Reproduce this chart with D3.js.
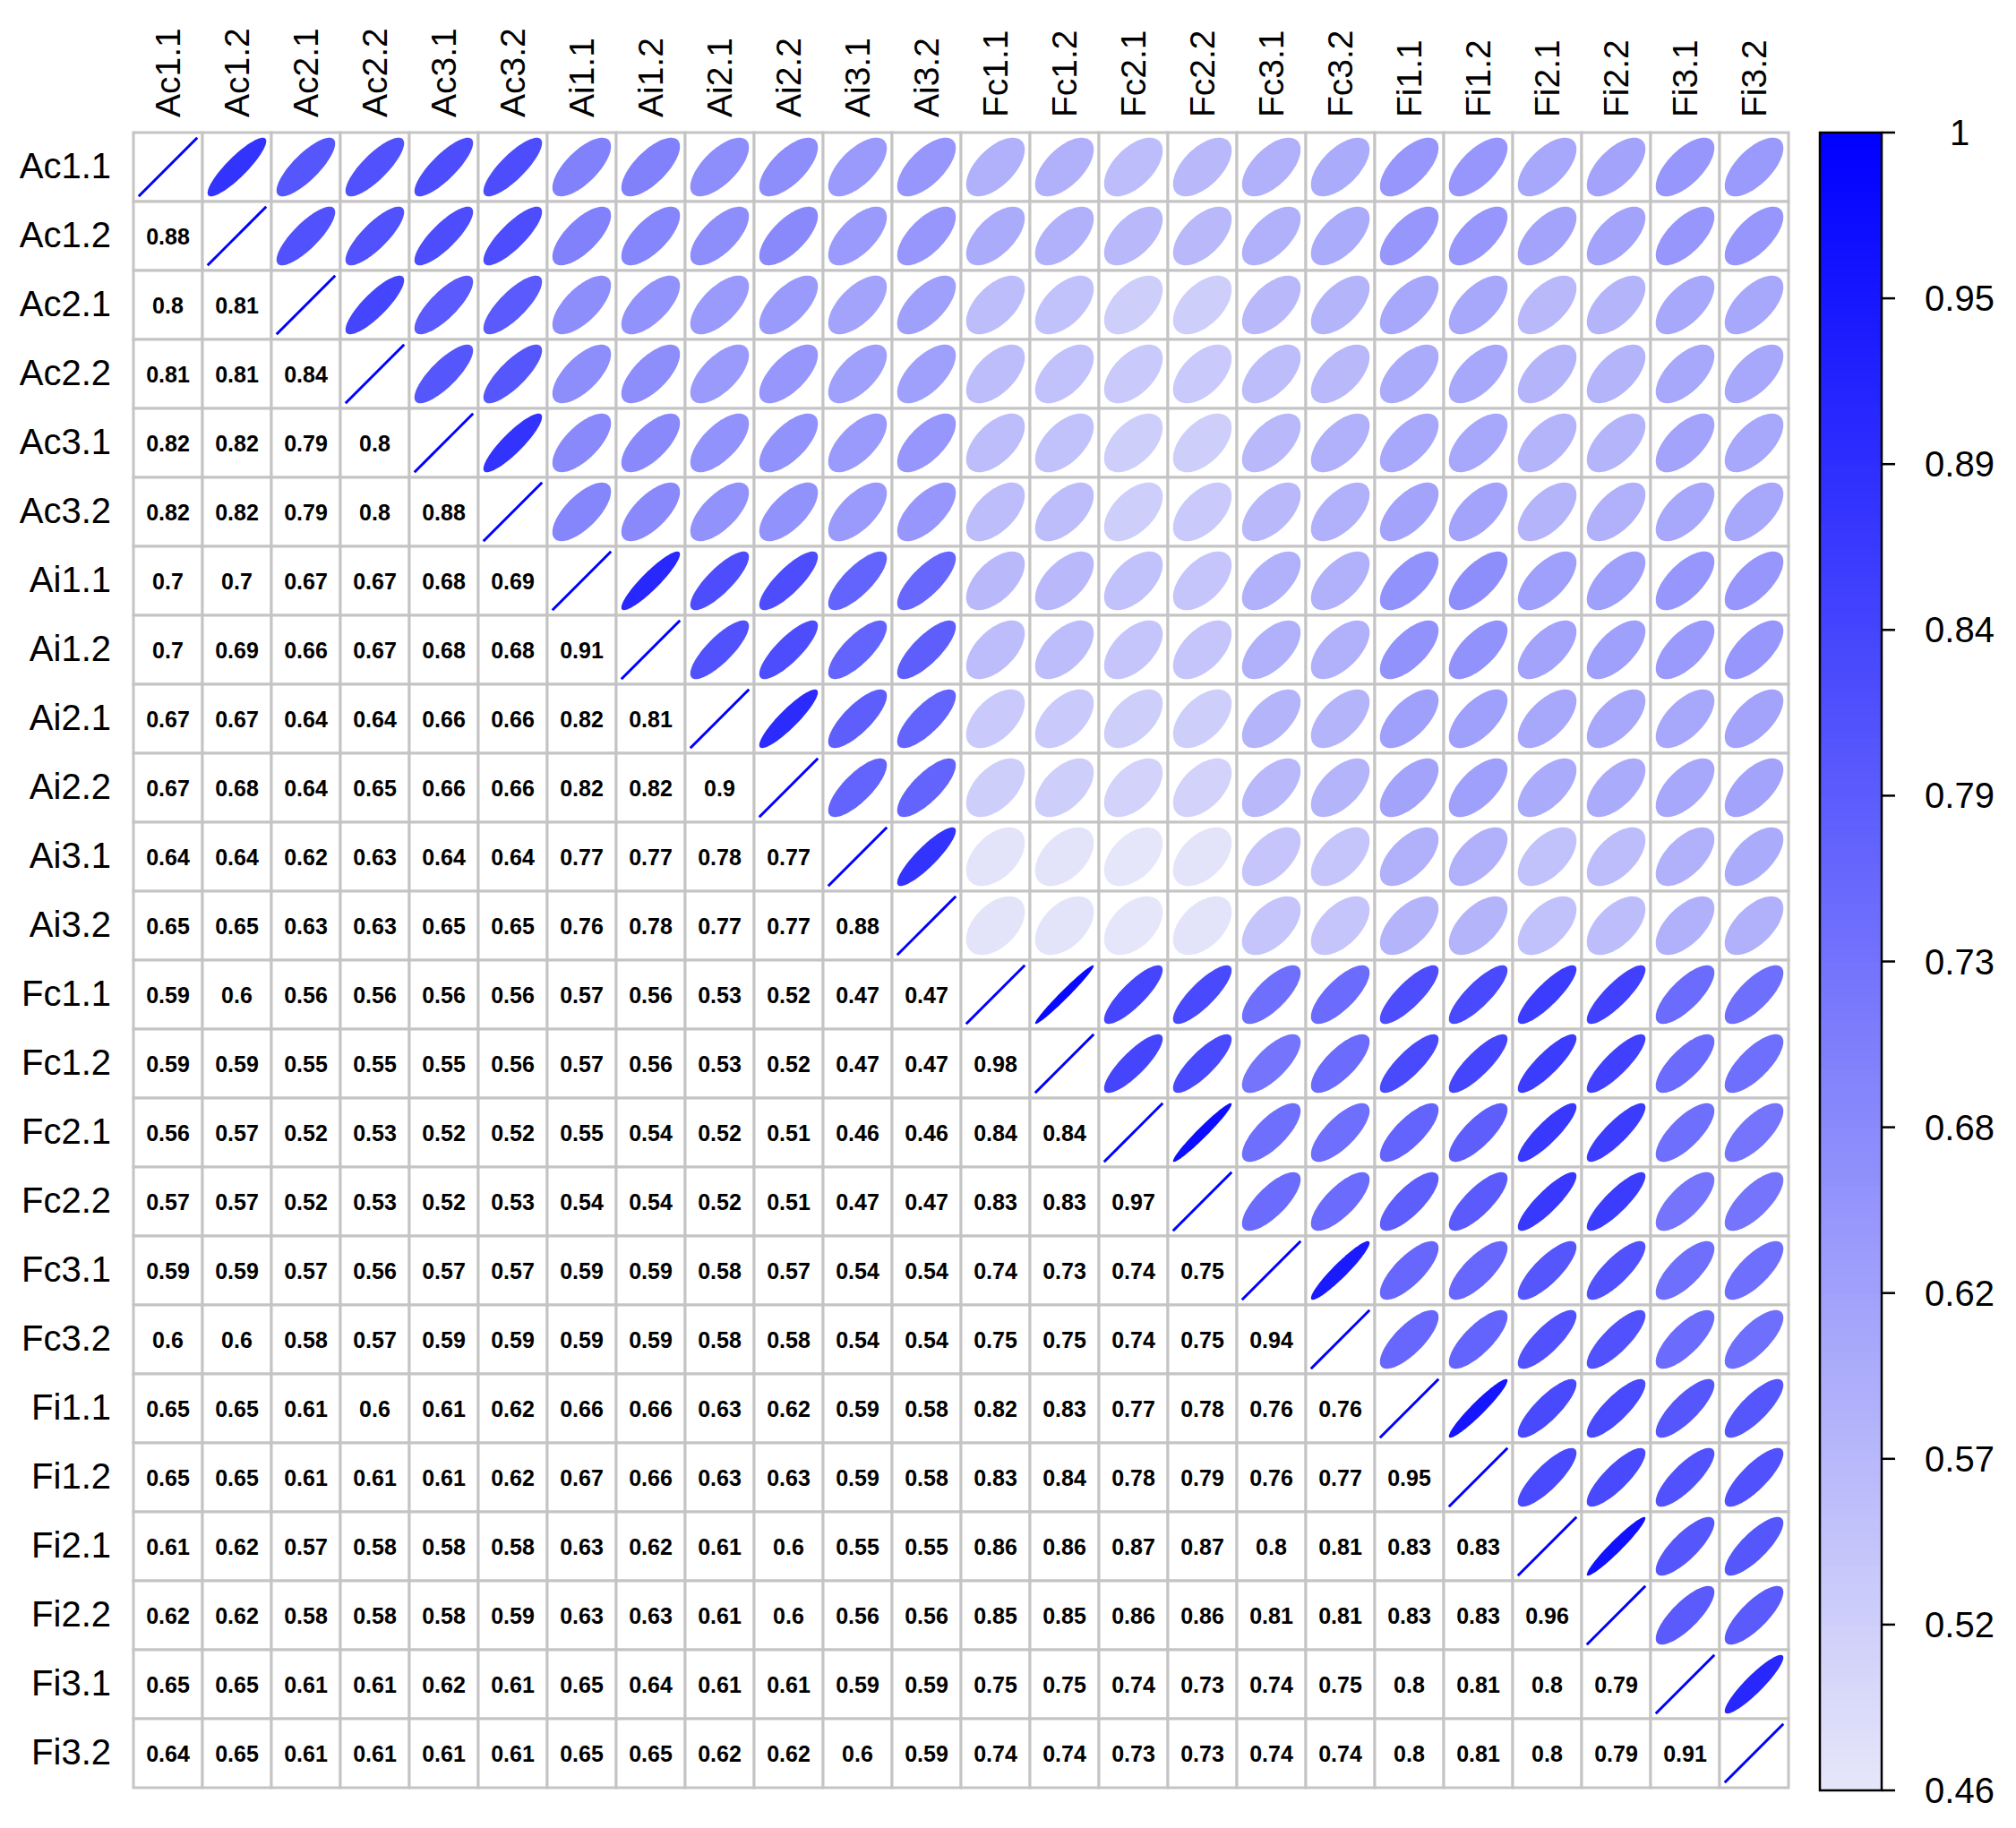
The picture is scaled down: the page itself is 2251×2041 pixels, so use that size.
<!DOCTYPE html>
<html>
<head>
<meta charset="utf-8">
<script src="https://cdn.jsdelivr.net/npm/d3@7"></script>
<style>
  html, body { margin: 0; padding: 0; background: #fff; }
  svg { display: block; }
</style>
</head>
<body>
<svg id="chart" width="2251" height="2041"></svg>
<script>
// ---------------- DATA ----------------
const variables = ["Ac1.1","Ac1.2","Ac2.1","Ac2.2","Ac3.1","Ac3.2",
  "Ai1.1","Ai1.2","Ai2.1","Ai2.2","Ai3.1","Ai3.2",
  "Fc1.1","Fc1.2","Fc2.1","Fc2.2","Fc3.1","Fc3.2",
  "Fi1.1","Fi1.2","Fi2.1","Fi2.2","Fi3.1","Fi3.2"];

// lower-triangle correlations, row i holds r(i, 0..i-1)
const lowerRows = [
  [],
  [0.88],
  [0.8,0.81],
  [0.81,0.81,0.84],
  [0.82,0.82,0.79,0.8],
  [0.82,0.82,0.79,0.8,0.88],
  [0.7,0.7,0.67,0.67,0.68,0.69],
  [0.7,0.69,0.66,0.67,0.68,0.68,0.91],
  [0.67,0.67,0.64,0.64,0.66,0.66,0.82,0.81],
  [0.67,0.68,0.64,0.65,0.66,0.66,0.82,0.82,0.9],
  [0.64,0.64,0.62,0.63,0.64,0.64,0.77,0.77,0.78,0.77],
  [0.65,0.65,0.63,0.63,0.65,0.65,0.76,0.78,0.77,0.77,0.88],
  [0.59,0.6,0.56,0.56,0.56,0.56,0.57,0.56,0.53,0.52,0.47,0.47],
  [0.59,0.59,0.55,0.55,0.55,0.56,0.57,0.56,0.53,0.52,0.47,0.47,0.98],
  [0.56,0.57,0.52,0.53,0.52,0.52,0.55,0.54,0.52,0.51,0.46,0.46,0.84,0.84],
  [0.57,0.57,0.52,0.53,0.52,0.53,0.54,0.54,0.52,0.51,0.47,0.47,0.83,0.83,0.97],
  [0.59,0.59,0.57,0.56,0.57,0.57,0.59,0.59,0.58,0.57,0.54,0.54,0.74,0.73,0.74,0.75],
  [0.6,0.6,0.58,0.57,0.59,0.59,0.59,0.59,0.58,0.58,0.54,0.54,0.75,0.75,0.74,0.75,0.94],
  [0.65,0.65,0.61,0.6,0.61,0.62,0.66,0.66,0.63,0.62,0.59,0.58,0.82,0.83,0.77,0.78,0.76,0.76],
  [0.65,0.65,0.61,0.61,0.61,0.62,0.67,0.66,0.63,0.63,0.59,0.58,0.83,0.84,0.78,0.79,0.76,0.77,0.95],
  [0.61,0.62,0.57,0.58,0.58,0.58,0.63,0.62,0.61,0.6,0.55,0.55,0.86,0.86,0.87,0.87,0.8,0.81,0.83,0.83],
  [0.62,0.62,0.58,0.58,0.58,0.59,0.63,0.63,0.61,0.6,0.56,0.56,0.85,0.85,0.86,0.86,0.81,0.81,0.83,0.83,0.96],
  [0.65,0.65,0.61,0.61,0.62,0.61,0.65,0.64,0.61,0.61,0.59,0.59,0.75,0.75,0.74,0.73,0.74,0.75,0.8,0.81,0.8,0.79],
  [0.64,0.65,0.61,0.61,0.61,0.61,0.65,0.65,0.62,0.62,0.6,0.59,0.74,0.74,0.73,0.73,0.74,0.74,0.8,0.81,0.8,0.79,0.91]
];

const colorbarLabels = ["0.46","0.52","0.57","0.62","0.68","0.73","0.79","0.84","0.89","0.95","1"];
const colorLimits = [0.4634, 1];
const colorStops = ["#E6E6FA", "#0000FF"];

// ---------------- LAYOUT ----------------
const svg = d3.select("#chart");
const n = variables.length;
const gridLeft = 149, gridTop = 148, cell = 77;
const font = "'Liberation Sans', Arial, Helvetica, sans-serif";

const x = d3.scaleBand().domain(variables).range([gridLeft, gridLeft + n * cell]).padding(0);
const y = d3.scaleBand().domain(variables).range([gridTop, gridTop + n * cell]).padding(0);
const color = d3.scaleLinear().domain(colorLimits).range(colorStops).interpolate(d3.interpolateRgb).clamp(true);

// full matrix cells
const cells = [];
variables.forEach((rv, i) => {
  variables.forEach((cv, j) => {
    let r;
    if (i === j) r = 1;
    else if (j < i) r = lowerRows[i][j];
    else r = lowerRows[j][i];
    cells.push({row: rv, col: cv, i, j, r});
  });
});

// cell backgrounds + grid
svg.append("g").selectAll("rect").data(cells).join("rect")
  .attr("x", d => x(d.col)).attr("y", d => y(d.row))
  .attr("width", x.bandwidth()).attr("height", y.bandwidth())
  .attr("fill", "#fff").attr("stroke", "#c4c4c4").attr("stroke-width", 3);

// ellipses (upper triangle)
function ellipsePath(r, s) {
  const d = Math.acos(r);
  const pts = d3.range(0, 101).map(k => {
    const t = k / 100 * 2 * Math.PI;
    return [0.85 * s * Math.cos(t + d / 2) / 2, -0.85 * s * Math.cos(t - d / 2) / 2];
  });
  return d3.line()(pts) + "Z";
}
const upper = cells.filter(d => d.j > d.i);
svg.append("g").selectAll("path").data(upper).join("path")
  .attr("transform", d => `translate(${x(d.col) + cell / 2},${y(d.row) + cell / 2})`)
  .attr("d", d => ellipsePath(d.r, cell))
  .attr("fill", d => color(d.r));

// diagonal lines
const diag = cells.filter(d => d.i === d.j);
svg.append("g").selectAll("line").data(diag).join("line")
  .attr("x1", d => x(d.col) + cell / 2 - 0.425 * cell)
  .attr("y1", d => y(d.row) + cell / 2 + 0.425 * cell)
  .attr("x2", d => x(d.col) + cell / 2 + 0.425 * cell)
  .attr("y2", d => y(d.row) + cell / 2 - 0.425 * cell)
  .attr("stroke", "#0000FF").attr("stroke-width", 3);

// numbers (lower triangle)
const lower = cells.filter(d => d.j < d.i);
svg.append("g").selectAll("text").data(lower).join("text")
  .attr("x", d => x(d.col) + cell / 2)
  .attr("y", d => y(d.row) + cell / 2)
  .attr("text-anchor", "middle").attr("dominant-baseline", "central")
  .attr("font-family", font).attr("font-weight", "bold").attr("font-size", 25)
  .attr("fill", "#000")
  .text(d => String(d.r));

// row labels
svg.append("g").selectAll("text").data(variables).join("text")
  .attr("x", 124).attr("y", d => y(d) + cell / 2 - 2)
  .attr("text-anchor", "end").attr("dominant-baseline", "central")
  .attr("font-family", font).attr("font-size", 40).attr("fill", "#000")
  .text(d => d);

// column labels
svg.append("g").selectAll("text").data(variables).join("text")
  .attr("transform", d => `translate(${x(d) + cell / 2},131) rotate(-90)`)
  .attr("text-anchor", "start").attr("dominant-baseline", "central")
  .attr("font-family", font).attr("font-size", 39).attr("fill", "#000")
  .text(d => d);

// ---------------- COLORBAR ----------------
const cbLeft = 2032, cbRight = 2101, cbTop = 148, cbBottom = 1999;
const cbScale = d3.scaleLinear().domain(colorLimits).range([cbBottom, cbTop]);
const nBands = 200;
const bandVals = d3.range(nBands).map(k => colorLimits[0] + (colorLimits[1] - colorLimits[0]) * (k + 0.5) / nBands);
const bandH = (cbBottom - cbTop) / nBands;
svg.append("g").selectAll("rect").data(bandVals).join("rect")
  .attr("x", cbLeft).attr("width", cbRight - cbLeft)
  .attr("y", d => cbScale(d) - bandH / 2 - 0.5).attr("height", bandH + 1)
  .attr("fill", d => color(d));
svg.append("rect").attr("x", cbLeft).attr("y", cbTop)
  .attr("width", cbRight - cbLeft).attr("height", cbBottom - cbTop)
  .attr("fill", "none").attr("stroke", "#000").attr("stroke-width", 2.5);

const tickPos = d3.scalePoint().domain(colorbarLabels).range([cbBottom, cbTop]);
const tickG = svg.append("g");
tickG.selectAll("line").data(colorbarLabels).join("line")
  .attr("x1", cbRight).attr("x2", 2116)
  .attr("y1", d => tickPos(d)).attr("y2", d => tickPos(d))
  .attr("stroke", "#000").attr("stroke-width", 2.5);
tickG.selectAll("text").data(colorbarLabels).join("text")
  .attr("x", 2188).attr("y", d => tickPos(d))
  .attr("text-anchor", "middle").attr("dominant-baseline", "central")
  .attr("font-family", font).attr("font-size", 40).attr("fill", "#000")
  .text(d => d);
</script>
</body>
</html>
